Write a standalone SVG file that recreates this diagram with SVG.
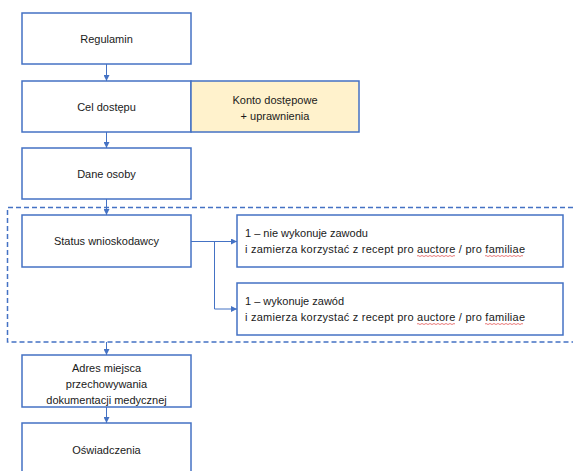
<svg xmlns="http://www.w3.org/2000/svg" width="573" height="471" viewBox="0 0 573 471">
<style>
.box{fill:#fff;stroke:#4472C4;stroke-width:1.5}
.yel{fill:#FFF2CC;stroke:#4472C4;stroke-width:1.5}
.t{font-family:"Liberation Sans",Arial,sans-serif;font-size:11px;fill:#1a1a1a}
.c{text-anchor:middle}
.con{fill:none;stroke:#4472C4;stroke-width:1}
.dash{fill:none;stroke:#4472C4;stroke-width:1.5;stroke-dasharray:5 3}
.sq{fill:none;stroke:#E04040;stroke-width:0.7}
</style>
<defs>
<marker id="ah" markerWidth="6" markerHeight="6" refX="6" refY="3" orient="auto" markerUnits="userSpaceOnUse">
<path d="M0,0 L6,3 L0,6 Z" fill="#4472C4"/>
</marker>
</defs>
<g id="connectors">
<path class="dash" d="M573,207.5 H7.5 V342 H573"/>
<line class="con" x1="106.5" y1="64" x2="106.5" y2="81" marker-end="url(#ah)"/>
<line class="con" x1="106.5" y1="132" x2="106.5" y2="148" marker-end="url(#ah)"/>
<line class="con" x1="106.5" y1="199" x2="106.5" y2="215" marker-end="url(#ah)"/>
<line class="con" x1="106.5" y1="342" x2="106.5" y2="355" marker-end="url(#ah)"/>
<line class="con" x1="106.5" y1="407" x2="106.5" y2="423" marker-end="url(#ah)"/>
<line class="con" x1="191" y1="241.5" x2="237" y2="241.5" marker-end="url(#ah)"/>
<path class="con" d="M214.5,241.5 V309 H237" marker-end="url(#ah)"/>
</g>
<g id="regulamin">
<rect class="box" x="22" y="13" width="169" height="51"/>
<text class="t c" x="106.5" y="43">Regulamin</text>
</g>
<g id="cel">
<rect class="box" x="22" y="81" width="169" height="51"/>
<text class="t c" x="106.5" y="111">Cel dostępu</text>
</g>
<g id="konto">
<rect class="yel" x="191" y="81" width="168" height="51"/>
<text class="t c" x="275" y="104">Konto dostępowe</text>
<text class="t c" x="275" y="120">+ uprawnienia</text>
</g>
<g id="dane">
<rect class="box" x="22" y="148" width="169" height="51"/>
<text class="t c" x="106.5" y="178">Dane osoby</text>
</g>
<g id="status">
<rect class="box" x="22" y="215" width="169" height="52"/>
<text class="t c" x="106.5" y="245">Status wnioskodawcy</text>
</g>
<g id="opt1">
<rect class="box" x="237" y="215" width="326" height="52"/>
<text class="t" x="245" y="237">1 – nie wykonuje zawodu</text>
<text class="t" x="245" y="253" textLength="280">i zamierza korzystać z recept pro auctore / pro familiae</text>
<path class="sq" d="M417,256 q1,-1 2,0 t2,0 t2,0 t2,0 t2,0 t2,0 t2,0 t2,0 t2,0 t2,0 t2,0 t2,0 t2,0 t2,0 t2,0 t2,0 t2,0 t2,0 t2,0"/>
<path class="sq" d="M485,256 q1,-1 2,0 t2,0 t2,0 t2,0 t2,0 t2,0 t2,0 t2,0 t2,0 t2,0 t2,0 t2,0 t2,0 t2,0 t2,0 t2,0 t2,0 t2,0 t2,0"/>
</g>
<g id="opt2">
<rect class="box" x="237" y="283" width="326" height="52"/>
<text class="t" x="245" y="305">1 – wykonuje zawód</text>
<text class="t" x="245" y="321" textLength="280">i zamierza korzystać z recept pro auctore / pro familiae</text>
<path class="sq" d="M417,324 q1,-1 2,0 t2,0 t2,0 t2,0 t2,0 t2,0 t2,0 t2,0 t2,0 t2,0 t2,0 t2,0 t2,0 t2,0 t2,0 t2,0 t2,0 t2,0 t2,0"/>
<path class="sq" d="M485,324 q1,-1 2,0 t2,0 t2,0 t2,0 t2,0 t2,0 t2,0 t2,0 t2,0 t2,0 t2,0 t2,0 t2,0 t2,0 t2,0 t2,0 t2,0 t2,0 t2,0"/>
</g>
<g id="adres">
<rect class="box" x="22" y="355" width="169" height="52"/>
<text class="t c" x="106.5" y="372">Adres miejsca</text>
<text class="t c" x="106.5" y="388">przechowywania</text>
<text class="t c" x="106.5" y="404">dokumentacji medycznej</text>
</g>
<g id="oswiadczenia">
<rect class="box" x="22" y="423" width="169" height="55"/>
<text class="t c" x="106.5" y="454">Oświadczenia</text>
</g>
</svg>
